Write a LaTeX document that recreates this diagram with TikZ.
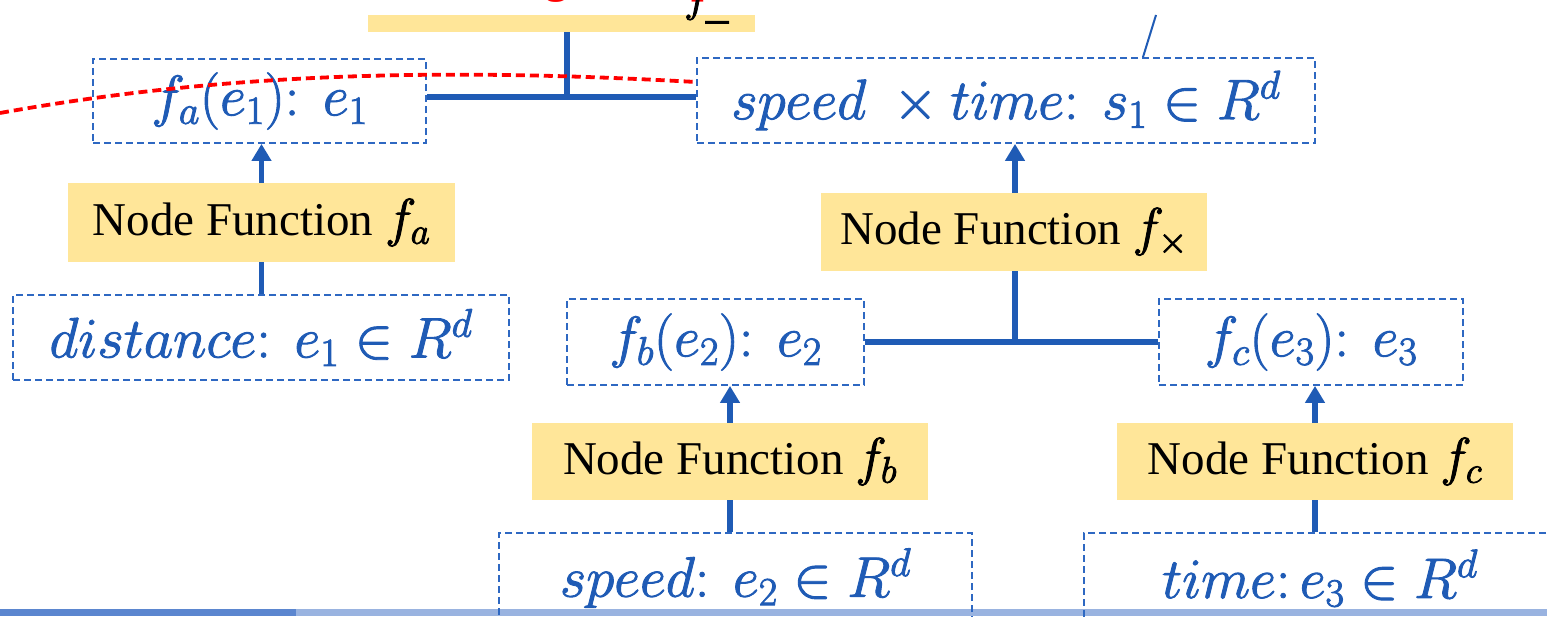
\RequirePackage{fix-cm}
\documentclass[tikz,border=0pt]{standalone}
\usepackage{fontspec}
\setmainfont{Liberation Serif}
\usetikzlibrary{arrows.meta}

\definecolor{ink}{HTML}{1F5BB5}
\definecolor{edge}{HTML}{2E68C2}
\definecolor{pad}{HTML}{FFE699}
\definecolor{bardark}{HTML}{5B86CF}
\definecolor{barlight}{HTML}{99B3E0}

% slightly heavier glyphs for the formulas (fill + stroke)
\newcommand{\heavy}[1]{\special{pdf:literal direct 2 Tr 0.9 w}#1\special{pdf:literal direct 0 Tr}}
% symbol of a node function, set a little larger than the words
\newcommand{\fsym}[1]{{\fontsize{53}{60}\selectfont\heavy{$f_{#1}$}}}

\tikzset{
  state/.style={draw=edge, dash pattern=on 7pt off 4pt, line width=1.8pt,
    text=ink, font=\fontsize{57}{66}\selectfont, inner sep=0pt},
  fn/.style={fill=pad, font=\fontsize{47}{56}\selectfont, inner sep=0pt},
  link/.style={draw=ink, line width=5.5pt},
  feed/.style={link, -{Triangle[length=17pt,width=19pt]}},
  hint/.style={draw=red, line width=3.8pt, dash pattern=on 9pt off 5pt},
}

\begin{document}
\begin{tikzpicture}[x=1pt,y=-1pt]
\useasboundingbox (0,0) rectangle (1547,616);
\clip (0,0) rectangle (1547,616);

% footer bar of the slide
\fill[bardark] (0,609) rectangle (296,616);
\fill[barlight] (296,609) rectangle (1547,616);

% node functions
\node[fn, minimum width=387pt, minimum height=17pt] (ytop) at (561.5,23.5) {};
\node[fn, minimum width=387pt, minimum height=79pt] (ya) at (261.5,222.5) {Node Function \fsym{a}};
\node[fn, minimum width=386pt, minimum height=78pt] (yx) at (1014,232) {Node Function \fsym{\times}};
\node[fn, minimum width=396pt, minimum height=77pt] (yb) at (730,461.5) {Node Function \fsym{b}};
\node[fn, minimum width=396pt, minimum height=77pt] (yc) at (1315,461.5) {Node Function \fsym{c}};

% fragments of the heading above
\node[text=red, font=\bfseries\fontsize{45}{54}\selectfont, anchor=base] (h1) at (557,-8) {g};
\node[text=red, font=\bfseries\fontsize{45}{54}\selectfont, anchor=base west] (h2) at (688,-8) {p};
\node[font=\fontsize{45}{54}\selectfont, anchor=base west, inner sep=0pt] (h3) at (684,11) {\heavy{$f_{\_}$}};

% embeddings
\node[state, minimum width=333pt, minimum height=84pt] (fa) at (259.5,101) {\heavy{$f_a(e_1)\colon\ e_1$}};
\node[state, minimum width=618pt, minimum height=85pt] (st) at (1006,100.5) {\heavy{$speed\ \times time\colon\ s_1\in R^d$}};
\node[state, minimum width=496pt, minimum height=85pt] (dist) at (261,337.5) {\heavy{$distance\colon\ e_1\in R^d$}};
\node[state, minimum width=297pt, minimum height=86pt] (fb) at (715.5,342) {\heavy{$f_b(e_2)\colon\ e_2$}};
\node[state, minimum width=304pt, minimum height=86pt] (fc) at (1311,342) {\heavy{$f_c(e_3)\colon\ e_3$}};
\node[state, minimum width=473pt, minimum height=90pt] (spd) at (735.5,578) {\heavy{$speed\colon\ e_2\in R^d$}};
\node[state, minimum width=472pt, minimum height=90pt] (tim) at (1320,578) {\heavy{$time\colon e_3\in R^d$}};

% connectors
\coordinate (jt) at (567,97);
\coordinate (jx) at (1015,342);
\coordinate (rx) at (1143,0);
\coordinate (tip) at (1156,15);

\draw[link] ([yshift=4pt]fa.east) -- ([yshift=3.5pt]st.west);
\draw[link] (jt) -- (jt |- ytop.south);

\draw[link] (dist.north -| ya.south) -- (ya.south);
\draw[feed] (ya.north) -- (ya.north |- fa.south);

\draw[link] (fb.east) -- (fc.west);
\draw[link] (jx) -- (jx |- yx.south);
\draw[feed] (yx.north -| jx) -- (st.south -| jx);

\draw[link] (spd.north -| yb.south) -- (yb.south);
\draw[feed] (yb.north) -- (yb.north |- fb.south);

\draw[link] (tim.north -| yc.south) -- (yc.south);
\draw[feed] (yc.north) -- (yc.north |- fc.south);

\draw[draw=ink, line width=2pt] (st.north -| rx) -- (tip);

% red dashed curve over the left box
\coordinate (r0) at (0,113);
\coordinate (r1) at (0,82);
\draw[hint] (r0) .. controls (250,68) and (480,70) .. (st.west |- r1);
\end{tikzpicture}
\end{document}
